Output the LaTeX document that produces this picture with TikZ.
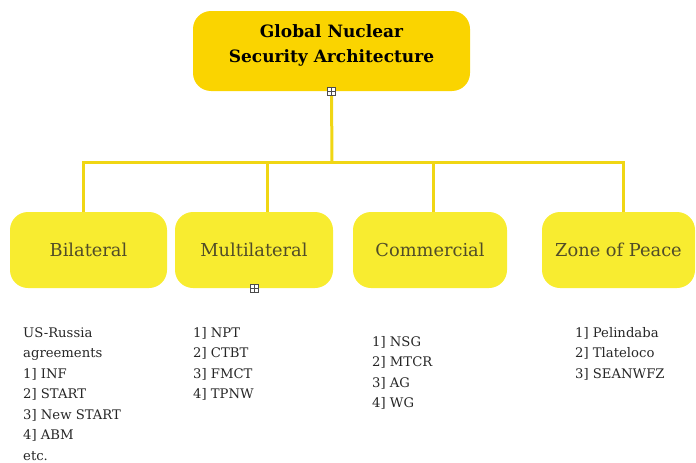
\documentclass[tikz,border=0pt]{standalone}
\usepackage{fontspec}
\setmainfont{DejaVu Serif}
\usepackage{tikz}
\usetikzlibrary{positioning}
\definecolor{gold}{RGB}{250,212,0}
\definecolor{lemon}{RGB}{248,236,48}
\definecolor{linkyellow}{RGB}{240,214,20}
\definecolor{olivetext}{RGB}{80,76,40}
\tikzset{
	rootbox/.style={fill=gold, rounded corners=18pt, minimum width=277pt, minimum height=80pt, text depth=14pt, align=center, font=\fontsize{17}{25}\selectfont\bfseries},
	kindbox/.style={fill=lemon, rounded corners=18pt, minimum height=76pt, text=olivetext, font=\fontsize{17.8}{20}\selectfont},
	listtext/.style={anchor=north west, inner sep=0pt, align=left, text=black!85, font=\fontsize{13.2}{20.5}\selectfont},
	link/.style={draw=linkyellow, line width=3pt},
	expander/.style={draw=black!70, fill=white, line width=0.7pt, minimum size=8pt, inner sep=0pt,
		path picture={\draw[black!70, line width=0.7pt] (path picture bounding box.north) -- (path picture bounding box.south) (path picture bounding box.west) -- (path picture bounding box.east);}}
}
\begin{document}
\begin{tikzpicture}[x=1pt,y=-1pt]
			\useasboundingbox (0,0) rectangle (696,463);
			
			\node(root) [rootbox] at (331.5,51)  {Global Nuclear\\ Security Architecture};
			
			\node(bil) [kindbox, minimum width=157pt] at (88.5,250) {Bilateral};
			\node(mul) [kindbox, minimum width=158pt] at (254,250) {Multilateral};
			\node(com) [kindbox, minimum width=154pt] at (430,250) {Commercial};
			\node(zop) [kindbox, minimum width=153pt] at (618.5,250) {Zone of Peace};
			
			\coordinate(hub) at (332,162);
			
			\draw[link] (root.south) -- (hub);
			\draw[link] ([xshift=-5.5pt]bil.north) |- (hub);
			\draw[link] ([xshift=13pt]mul.north) |- (hub);
			\draw[link] ([xshift=3pt]com.north) |- (hub);
			\draw[link] ([xshift=4.5pt]zop.north) |- (hub);
			
			% collapse/expand markers
			\node(rootexp) [expander] at (root.south) {};
			\node(mulexp) [expander] at (mul.south) {};
			
			\node(billist) [listtext] at (23,327) {US-Russia\\ agreements\\ 1] INF\\ 2] START\\ 3] New START\\ 4] ABM\\ etc.};
			\node(mullist) [listtext] at (193,327) {1] NPT\\ 2] CTBT\\ 3] FMCT\\ 4] TPNW};
			\node(comlist) [listtext] at (372,336) {1] NSG\\ 2] MTCR\\ 3] AG\\ 4] WG};
			\node(zoplist) [listtext] at (575,327) {1] Pelindaba\\ 2] Tlateloco\\ 3] SEANWFZ};
		\end{tikzpicture}
\end{document}
